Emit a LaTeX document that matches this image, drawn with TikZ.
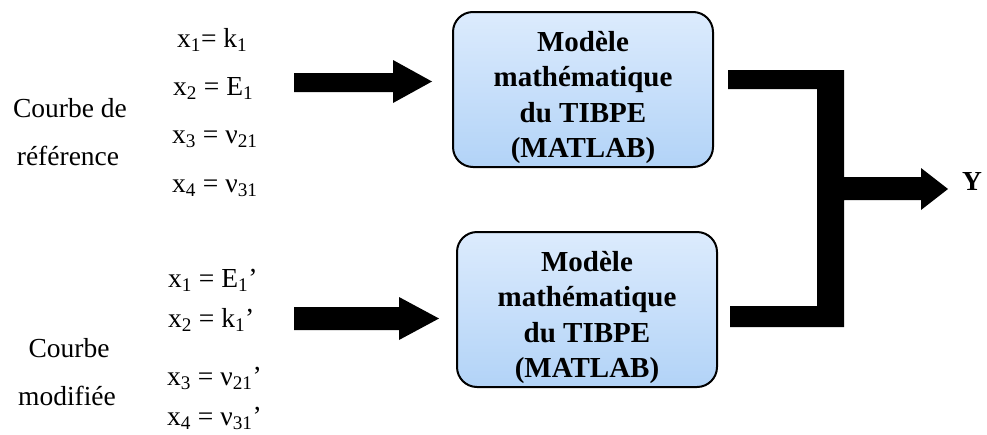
\documentclass[tikz,border=0pt]{standalone}
\usepackage{fontspec}
\setmainfont{Liberation Serif}
\begin{document}
\begin{tikzpicture}[x=1pt,y=-1pt,
  lbl/.style={anchor=base,font=\fontsize{27.5}{33}\selectfont,inner sep=0},
  eq/.style={anchor=base west,font=\fontsize{27.5}{33}\selectfont,inner sep=0},
  model/.style={draw=black,line width=2pt,rounded corners=20pt,top color=blueTop,bottom color=blueBot,
    minimum width=260pt,minimum height=155pt,inner sep=0},
  modeltext/.style={align=center,font=\fontsize{29}{35.5}\selectfont\bfseries,inner sep=0},
  blk/.style={fill=black,draw=none}]
\definecolor{blueTop}{HTML}{DCEBFD}
\definecolor{blueBot}{HTML}{B2D3F7}
\useasboundingbox (0,0) rectangle (987,434);
% left labels
\node[lbl] (c1a) at (70,117) {Courbe de};
\node[lbl] (c1b) at (68,165) {référence};
\node[lbl] (c2a) at (69,357) {Courbe};
\node[lbl] (c2b) at (67,405) {modifiée};
% equations top
\node[eq] (e1) at (177,47) {x\textsubscript{1}= k\textsubscript{1}};
\node[eq] (e2) at (173,95) {x\textsubscript{2} = E\textsubscript{1}};
\node[eq] (e3) at (172,143) {x\textsubscript{3} = ν\textsubscript{21}};
\node[eq] (e4) at (172,192) {x\textsubscript{4} = ν\textsubscript{31}};
% equations bottom
\node[eq] (f1) at (168,287) {x\textsubscript{1} = E\textsubscript{1}’};
\node[eq] (f2) at (168,327) {x\textsubscript{2} = k\textsubscript{1}’};
\node[eq] (f3) at (167,385) {x\textsubscript{3} = ν\textsubscript{21}’};
\node[eq] (f4) at (167,425) {x\textsubscript{4} = ν\textsubscript{31}’};
% models
\node[model] (m1) at (583,89.5) {};
\node[modeltext] (t1) at ([yshift=-8pt]m1.center) {Modèle\\mathématique\\du TIBPE\\(MATLAB)};
\node[model] (m2) at (587,309.5) {};
\node[modeltext] (t2) at ([yshift=-8pt]m2.center) {Modèle\\mathématique\\du TIBPE\\(MATLAB)};
% output label
\node[anchor=base,inner sep=0,font=\fontsize{27.5}{33}\selectfont\bfseries] (y) at (972,190) {Y};
% input arrows
\fill[blk] (294,73) -- (393,73) -- (393,60) -- (432,81.5) -- (393,103) -- (393,92) -- (294,92) -- cycle;
\fill[blk] (294,307) -- (399,307) -- (399,297) -- (439,318.5) -- (399,340) -- (399,330) -- (294,330) -- cycle;
% combining connector
\fill[blk] (728,70) -- (844,70) -- (844,177) -- (921,177) -- (921,168) -- (948,189) -- (921,210) -- (921,200)
  -- (844,200) -- (844,327) -- (730,327) -- (730,306) -- (817,306) -- (817,89) -- (728,89) -- cycle;
\end{tikzpicture}
\end{document}
